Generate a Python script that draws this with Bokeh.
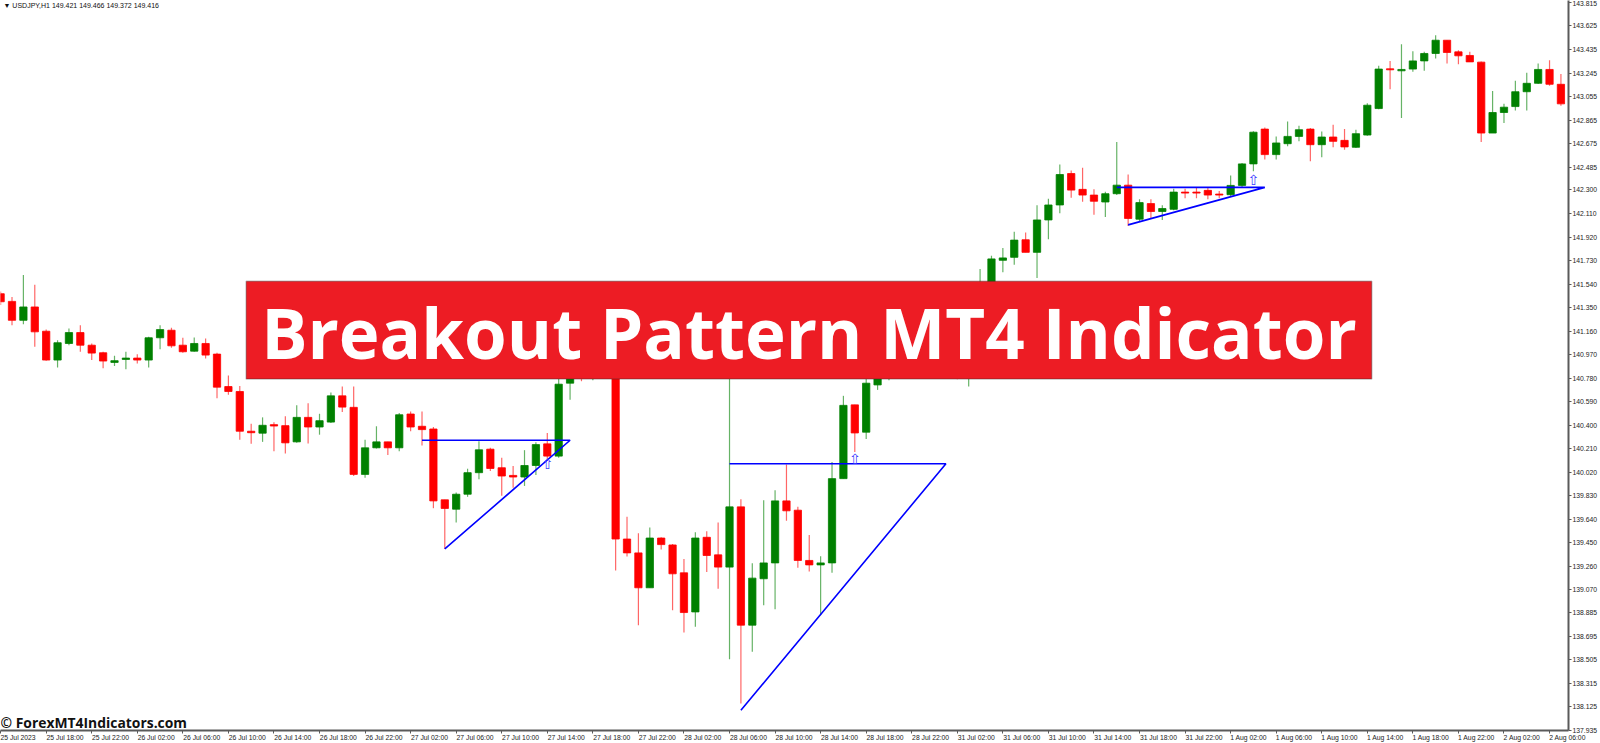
from bokeh.plotting import figure
from bokeh.models import (Range1d, LinearAxis, FixedTicker, NumeralTickFormatter,
                          BoxAnnotation, Label, ColumnDataSource, AllLabels)
from bokeh.embed import file_html
from bokeh.resources import INLINE
from bokeh.core.properties import value

# ---------------- data (USDJPY H1) ----------------
opens = [141.462, 141.400, 141.247, 141.355, 141.159, 140.926, 141.060, 141.148, 141.046, 140.985,
         140.907, 140.931, 140.942, 140.926, 141.106, 141.167, 141.046, 140.998, 141.060, 140.974,
         140.712, 140.672, 140.351, 140.335, 140.404, 140.396, 140.265, 140.463, 140.385, 140.425,
         140.637, 140.544, 140.002, 140.217, 140.265, 140.217, 140.490, 140.391, 140.369, 139.797,
         139.721, 139.842, 140.016, 140.206, 140.056, 139.994, 139.981, 140.074, 140.249, 140.150,
         140.739, 140.843, 140.795, 141.020, 140.923, 139.480, 139.368, 139.086, 139.488, 139.432,
         139.207, 138.891, 139.494, 139.352, 139.253, 139.740, 138.784, 139.159, 139.287, 139.788,
         139.713, 139.307, 139.271, 139.287, 139.968, 140.564, 140.343, 140.725, 140.843, 140.980,
         140.923, 141.100, 141.180, 141.116, 141.261, 141.140, 141.341, 141.502, 141.732, 141.756,
         141.898, 141.796, 142.058, 142.179, 142.433, 142.305, 142.259, 142.203, 142.270, 142.339,
         142.064, 142.190, 142.126, 142.144, 142.283, 142.283, 142.297, 142.267, 142.262, 142.337,
         142.511, 142.792, 142.586, 142.674, 142.733, 142.792, 142.666, 142.728, 142.701, 142.645,
         142.744, 142.958, 143.279, 143.263, 143.277, 143.343, 143.403, 143.510, 143.416, 143.387,
         143.333, 142.760, 142.926, 142.974, 143.094, 143.162, 143.274, 143.154]
highs = [141.480, 141.435, 141.614, 141.534, 141.172, 141.086, 141.180, 141.207, 141.060, 140.993,
         140.961, 140.993, 140.972, 141.114, 141.207, 141.188, 141.106, 141.108, 141.100, 140.985,
         140.801, 140.717, 140.412, 140.463, 140.423, 140.471, 140.560, 140.578, 140.492, 140.664,
         140.712, 140.712, 140.283, 140.391, 140.265, 140.498, 140.511, 140.511, 140.385, 139.797,
         139.855, 140.048, 140.270, 140.217, 140.136, 140.070, 140.198, 140.262, 140.337, 140.795,
         140.923, 140.939, 141.100, 141.140, 140.980, 139.660, 139.526, 139.574, 139.494, 139.440,
         139.319, 139.534, 139.542, 139.614, 140.859, 139.801, 139.285, 139.793, 139.874, 140.082,
         139.740, 139.512, 139.341, 140.102, 140.637, 140.564, 140.779, 140.899, 141.020, 141.036,
         141.140, 141.245, 141.221, 141.301, 141.325, 141.462, 141.662, 141.769, 141.831, 141.962,
         141.957, 142.176, 142.230, 142.506, 142.458, 142.479, 142.305, 142.286, 142.688, 142.425,
         142.225, 142.225, 142.176, 142.311, 142.311, 142.318, 142.319, 142.291, 142.417, 142.519,
         142.775, 142.805, 142.733, 142.853, 142.819, 142.800, 142.773, 142.827, 142.792, 142.787,
         143.001, 143.303, 143.343, 143.478, 143.421, 143.416, 143.550, 143.510, 143.429, 143.416,
         143.339, 143.100, 142.996, 143.183, 143.247, 143.323, 143.349, 143.237]
lows = [141.370, 141.207, 141.215, 141.033, 140.921, 140.865, 141.046, 140.993, 140.926, 140.859,
        140.878, 140.851, 140.899, 140.865, 141.014, 141.025, 140.985, 140.993, 140.939, 140.618,
        140.645, 140.283, 140.249, 140.265, 140.190, 140.171, 140.257, 140.251, 140.323, 140.417,
        140.506, 139.989, 139.976, 140.211, 140.158, 140.190, 140.351, 140.235, 139.729, 139.400,
        139.614, 139.821, 139.962, 140.029, 139.829, 139.895, 139.909, 139.997, 140.123, 140.136,
        140.605, 140.755, 140.763, 140.859, 139.226, 139.339, 138.784, 139.086, 139.395, 138.905,
        138.725, 138.771, 139.213, 139.078, 138.508, 138.152, 138.570, 138.945, 138.913, 139.628,
        139.247, 139.218, 138.865, 139.207, 139.968, 140.184, 140.289, 140.685, 140.763, 140.875,
        140.891, 141.052, 141.060, 141.084, 140.771, 140.712, 141.301, 141.462, 141.636, 141.697,
        141.796, 141.588, 141.903, 142.112, 142.238, 142.206, 142.099, 142.082, 142.259, 142.010,
        142.050, 142.072, 142.058, 142.136, 142.233, 142.233, 142.225, 142.233, 142.246, 142.319,
        142.452, 142.546, 142.546, 142.653, 142.693, 142.532, 142.564, 142.645, 142.626, 142.640,
        142.739, 142.953, 143.114, 142.881, 143.255, 143.263, 143.363, 143.323, 143.315, 143.335,
        142.688, 142.760, 142.841, 142.942, 142.942, 143.156, 143.143, 142.980]
closes = [141.397, 141.247, 141.355, 141.154, 140.926, 141.066, 141.148, 141.046, 140.982, 140.918,
          140.921, 140.942, 140.926, 141.106, 141.172, 141.041, 140.993, 141.060, 140.966, 140.707,
          140.672, 140.351, 140.339, 140.399, 140.393, 140.257, 140.463, 140.385, 140.436, 140.637,
          140.546, 140.002, 140.217, 140.265, 140.217, 140.484, 140.385, 140.364, 139.788, 139.727,
          139.842, 140.016, 140.201, 140.050, 139.989, 139.981, 140.074, 140.243, 140.150, 140.731,
          140.859, 140.795, 141.020, 140.923, 139.480, 139.368, 139.086, 139.488, 139.435, 139.199,
          138.886, 139.488, 139.347, 139.253, 139.740, 138.784, 139.164, 139.287, 139.788, 139.708,
          139.307, 139.271, 139.287, 139.968, 140.560, 140.337, 140.739, 140.843, 140.980, 140.923,
          141.100, 141.180, 141.116, 141.261, 141.140, 141.421, 141.542, 141.743, 141.751, 141.895,
          141.796, 142.058, 142.179, 142.425, 142.299, 142.259, 142.209, 142.270, 142.339, 142.070,
          142.198, 142.126, 142.150, 142.283, 142.275, 142.275, 142.259, 142.259, 142.337, 142.511,
          142.767, 142.586, 142.680, 142.733, 142.787, 142.666, 142.728, 142.693, 142.648, 142.755,
          142.985, 143.277, 143.271, 143.274, 143.343, 143.403, 143.510, 143.411, 143.384, 143.335,
          142.760, 142.926, 142.969, 143.094, 143.162, 143.274, 143.154, 142.996]

# breakout pattern lines (bar index, price)
pattern_x = [[37, 50, 39], [64, 83, 65], [98, 111, 99]]
pattern_y = [[140.278, 140.278, 139.400], [140.088, 140.088, 138.096], [142.321, 142.321, 142.018]]

# breakout arrows
arrow_idx = [48, 75, 110]
arrow_price = [140.084, 140.128, 142.381]

# axis labels
price_ticks = [143.815, 143.625, 143.435, 143.245, 143.055, 142.865, 142.675, 142.485, 142.300,
               142.110, 141.920, 141.730, 141.540, 141.350, 141.160, 140.970, 140.780, 140.590,
               140.400, 140.210, 140.020, 139.830, 139.640, 139.450, 139.260, 139.070, 138.885,
               138.695, 138.505, 138.315, 138.125, 137.935]
time_labels = ["25 Jul 2023", "25 Jul 18:00", "25 Jul 22:00", "26 Jul 02:00", "26 Jul 06:00",
               "26 Jul 10:00", "26 Jul 14:00", "26 Jul 18:00", "26 Jul 22:00", "27 Jul 02:00",
               "27 Jul 06:00", "27 Jul 10:00", "27 Jul 14:00", "27 Jul 18:00", "27 Jul 22:00",
               "28 Jul 02:00", "28 Jul 06:00", "28 Jul 10:00", "28 Jul 14:00", "28 Jul 18:00",
               "28 Jul 22:00", "31 Jul 02:00", "31 Jul 06:00", "31 Jul 10:00", "31 Jul 14:00",
               "31 Jul 18:00", "31 Jul 22:00", "1 Aug 02:00", "1 Aug 06:00", "1 Aug 10:00",
               "1 Aug 14:00", "1 Aug 18:00", "1 Aug 22:00", "2 Aug 02:00", "2 Aug 06:00"]
time_label_idx = [4 * k for k in range(len(time_labels))]

header_text = "\u25bc USDJPY,H1  149.421 149.466 149.372 149.416"
banner_text = "Breakout Pattern MT4 Indicator"
watermark_text = "\u00a9 ForexMT4Indicators.com"

# ---------------- figure ----------------
X0, X1 = -0.01, 137.665
Y0, Y1 = 137.933, 143.831
REF_W, REF_H = 1570.0, 733.0


def rx(px):
    return X0 + px / REF_W * (X1 - X0)


def ry(py):
    return Y1 - py / REF_H * (Y1 - Y0)


p = figure(width=1600, height=743,
           x_range=Range1d(X0, X1), y_range=Range1d(Y0, Y1),
           x_axis_location=None, y_axis_location=None,
           toolbar_location=None, output_backend="svg",
           min_border_left=0, min_border_top=0, min_border_right=30, min_border_bottom=10,
           outline_line_color=None,
           background_fill_color="white", border_fill_color="white")
p.grid.visible = False

GREEN = "#008000"
RED = "#ff0000"
idx = list(range(len(opens)))
bull = [c >= o for o, c in zip(opens, closes)]
src = ColumnDataSource(dict(
    x=idx, o=opens, h=highs, l=lows, c=closes,
    top=[max(o, c) for o, c in zip(opens, closes)],
    bottom=[min(o, c) for o, c in zip(opens, closes)],
    color=[GREEN if b else RED for b in bull],
))

p.segment(x0="x", y0="l", x1="x", y1="h", line_color="color", line_alpha=0.6,
          line_width=1.2, source=src)
p.vbar(x="x", width=0.64, top="top", bottom="bottom", fill_color="color",
       line_color="color", line_width=0.8, source=src)

p.multi_line(xs=pattern_x, ys=pattern_y, line_color="#0000ff", line_width=1.6)

p.text(x=arrow_idx, y=arrow_price, text=["\u21e7"] * len(arrow_idx),
       text_font=value("DejaVu Sans"), text_font_size="14px", text_color="#3a3aff",
       text_align="center", text_baseline="middle")

# ---------------- axes ----------------
yaxis = LinearAxis(ticker=FixedTicker(ticks=price_ticks),
                   formatter=NumeralTickFormatter(format="0.000"))
yaxis.axis_line_color = "#5a5a5a"
yaxis.axis_line_width = 2
yaxis.major_tick_out = 3
yaxis.major_tick_in = 0
yaxis.major_tick_line_color = "#5a5a5a"
yaxis.minor_tick_line_color = None
yaxis.major_label_standoff = 1
yaxis.major_label_text_font = "Liberation Sans"
yaxis.major_label_text_font_size = "6.8px"
yaxis.major_label_text_color = "#222222"
p.add_layout(yaxis, "right")

# MT4 writes each time label to the right of its tick: centre-aligned labels are
# padded on the left with no-break spaces of the same width as the label
# (the first one sits at the left edge and is kept inside the canvas as it is).
EM = {" ": 0.278, ":": 0.278, "J": 0.5, "u": 0.556, "l": 0.222, "A": 0.667, "g": 0.556}


def em_width(s):
    return sum(EM.get(ch, 0.556) for ch in s)


shifted = {}
for k, (i, t) in enumerate(zip(time_label_idx, time_labels)):
    shifted[i] = t if k == 0 else "\u00a0" * round(em_width(t) / 0.278) + t

xaxis = LinearAxis(ticker=FixedTicker(ticks=time_label_idx), major_label_overrides=shifted)
xaxis.major_label_policy = AllLabels()
xaxis.axis_line_color = "#5a5a5a"
xaxis.axis_line_width = 2
xaxis.major_tick_out = 3
xaxis.major_tick_in = 0
xaxis.major_tick_line_color = "#5a5a5a"
xaxis.minor_tick_line_color = None
xaxis.major_label_standoff = 0
xaxis.major_label_text_font = "Liberation Sans"
xaxis.major_label_text_font_size = "6.8px"
xaxis.major_label_text_color = "#222222"
p.add_layout(xaxis, "below")

# ---------------- overlays ----------------
p.add_layout(Label(x=rx(3), y=ry(5), text=header_text, text_font="Liberation Sans",
                   text_font_size="7px", text_color="#111111", text_baseline="middle"))

p.add_layout(BoxAnnotation(left=rx(246), right=rx(1373), top=ry(282), bottom=ry(380),
                           fill_color="#ed1c24", fill_alpha=1.0,
                           line_color="#2a2a2a", line_width=1.5))
p.add_layout(Label(x=rx(809.5), y=ry(333), text=banner_text, text_font="Open Sans",
                   text_font_style="bold", text_font_size="69px", text_color="white",
                   text_align="center", text_baseline="middle"))

p.add_layout(Label(x=rx(0), y=ry(725), text=watermark_text, text_font="Open Sans",
                   text_font_style="bold", text_font_size="13.9px", text_color="#111111",
                   text_baseline="middle"))

open("out.html", "w").write(file_html(p, INLINE, "Breakout Pattern MT4 Indicator"))
